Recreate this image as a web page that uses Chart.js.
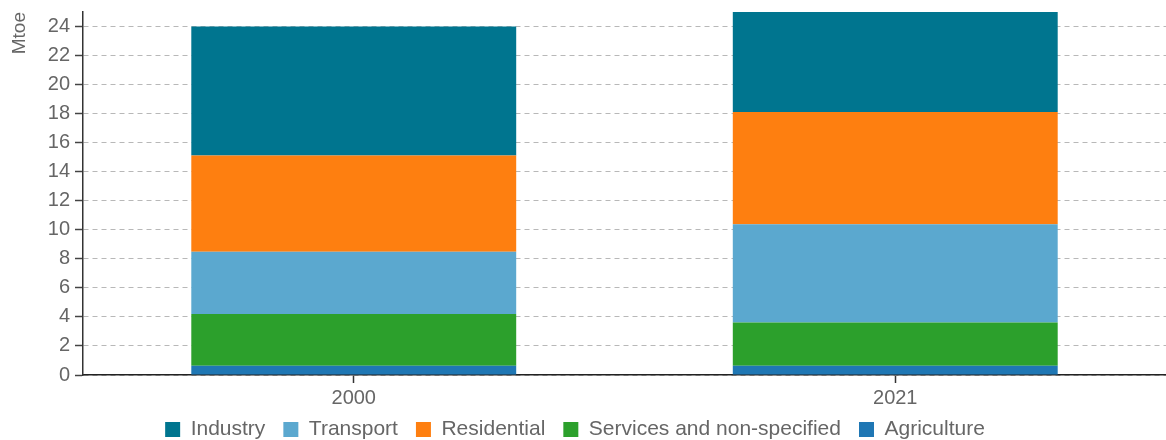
<!DOCTYPE html>
<html>
<head>
<meta charset="utf-8">
<script src="https://cdn.jsdelivr.net/npm/chart.js@4"></script>
<style>
  html, body { margin: 0; padding: 0; background: #fff; }
  #wrap { width: 1166px; height: 440px; position: relative; }
</style>
</head>
<body>
<div id="wrap"><canvas id="chart"></canvas></div>
<script>
// Final energy consumption by sector (Mtoe)
const years = ['2000', '2021'];
const agriculture = [0.64, 0.64];
const services = [3.56, 2.97];
const transport = [4.28, 6.78];
const residential = [6.64, 7.73];
const industry = [8.88, 6.88];
const yTicks = [0, 2, 4, 6, 8, 10, 12, 14, 16, 18, 20, 22, 24];
const legendOrder = ['Industry', 'Transport', 'Residential', 'Services and non-specified', 'Agriculture'];

const font = 'Arial, "Liberation Sans", sans-serif';

// keep the legend row compact so the plot can reach further down
const tightLegend = {
  id: 'tightLegend',
  beforeInit(chart) {
    const legend = chart.legend;
    if (!legend) return;
    const fit = legend.fit;
    legend.fit = function () {
      fit.call(this);
      this.height = 27;
    };
    const draw = legend.draw;
    legend.draw = function () {
      const { top, left, right } = this;
      this.top = top - 12;
      this.left = left - 8;
      this.right = right - 8;
      draw.call(this);
      this.top = top;
      this.left = left;
      this.right = right;
    };
  }
};

document.addEventListener('DOMContentLoaded', () => {
  const ctx = document.getElementById('chart');

  new Chart(ctx, {
    type: 'bar',
    data: {
      labels: years,
      datasets: [
        { label: 'Agriculture', data: agriculture, backgroundColor: '#1f77b4' },
        { label: 'Services and non-specified', data: services, backgroundColor: '#2ca02c' },
        { label: 'Transport', data: transport, backgroundColor: '#5ba8cf' },
        { label: 'Residential', data: residential, backgroundColor: '#fe7f10' },
        { label: 'Industry', data: industry, backgroundColor: '#00758f' }
      ]
    },
    options: {
      responsive: true,
      maintainAspectRatio: false,
      animation: false,
      categoryPercentage: 1,
      barPercentage: 0.6,
      layout: { padding: { top: 12, left: 0, right: 0, bottom: 0 } },
      plugins: {
        tooltip: { enabled: false },
        legend: {
          position: 'bottom',
          labels: {
            boxWidth: 15,
            boxHeight: 15,
            padding: 18,
            color: '#666',
            font: { family: font, size: 21 },
            sort: (a, b) => legendOrder.indexOf(a.text) - legendOrder.indexOf(b.text)
          }
        }
      },
      scales: {
        x: {
          stacked: true,
          grid: {
            offset: false,
            drawOnChartArea: false,
            drawTicks: true,
            tickLength: 8,
            tickColor: '#333',
            tickWidth: 1.5
          },
          border: { color: '#222', width: 1.5 },
          ticks: {
            padding: 3,
            color: '#666',
            font: { family: font, size: 20 }
          }
        },
        y: {
          stacked: true,
          min: 0,
          max: 25,
          afterFit: (scale) => {
            scale.width = 83;
            scale.paddingTop = 0;
            scale.paddingBottom = 0;
          },
          afterBuildTicks: (scale) => {
            scale.ticks = yTicks.map(v => ({ value: v }));
          },
          grid: {
            color: '#b8b8b8',
            lineWidth: 1,
            drawTicks: true,
            tickLength: 8,
            tickColor: '#444',
            tickWidth: 1.5,
            tickBorderDash: []
          },
          border: { color: '#333', width: 1.5, dash: [5, 4] },
          ticks: {
            padding: 5,
            color: '#666',
            font: { family: font, size: 20 }
          },
          title: {
            display: true,
            text: 'Mtoe',
            align: 'end',
            color: '#666',
            padding: { top: 8, bottom: 4 },
            font: { family: font, size: 19 }
          }
        }
      }
    },
    plugins: [tightLegend]
  });
});
</script>
</body>
</html>
